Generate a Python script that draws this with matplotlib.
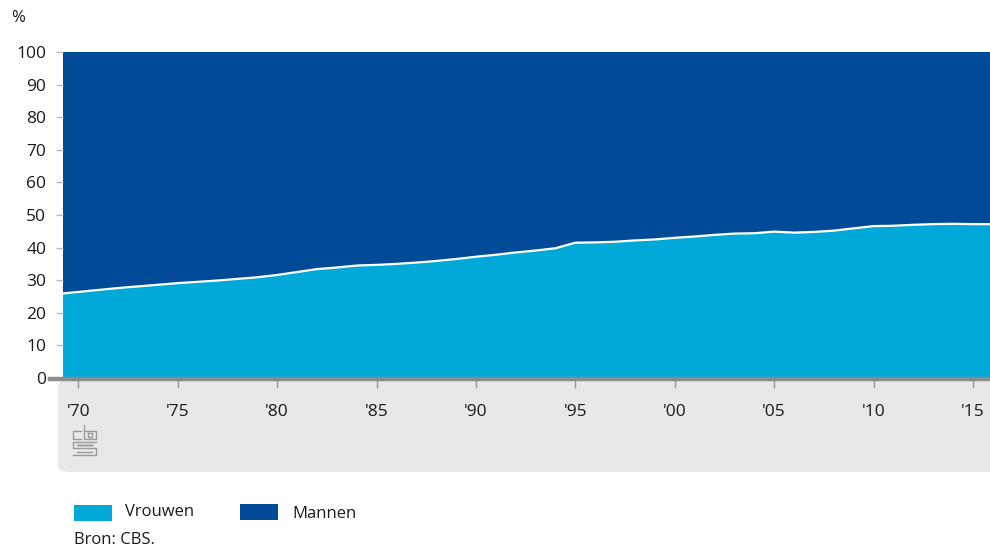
import matplotlib

matplotlib.use("Agg")
import matplotlib.pyplot as plt
from matplotlib.patches import FancyBboxPatch, Rectangle

plt.rcParams["font.family"] = ["Open Sans", "DejaVu Sans"]

years = list(range(1969, 2017))
vrouwen = [
    25.8, 26.4, 27.0, 27.6, 28.1, 28.6, 29.1, 29.5, 29.9, 30.4,
    30.9, 31.6, 32.5, 33.4, 33.9, 34.5, 34.7, 35.0, 35.4, 35.9,
    36.5, 37.2, 37.8, 38.5, 39.1, 39.8, 41.5, 41.6, 41.8, 42.2,
    42.5, 43.0, 43.4, 43.9, 44.3, 44.4, 44.9, 44.6, 44.8, 45.2,
    45.9, 46.6, 46.7, 47.0, 47.2, 47.3, 47.2, 47.2,
]
mannen = [100 - v for v in vrouwen]
tick_years = [1970, 1975, 1980, 1985, 1990, 1995, 2000, 2005, 2010, 2015]
tick_labels = ["'70", "'75", "'80", "'85", "'90", "'95", "'00", "'05", "'10", "'15"]
y_ticks = [0, 10, 20, 30, 40, 50, 60, 70, 80, 90, 100]

LIGHT = "#00a9d7"
DARK = "#004a98"
TEXT = "#1a1a1a"
GRID = "#999999"

W, H = 990, 548
fig = plt.figure(figsize=(W / 100, H / 100), dpi=100)

# grey band behind the x labels
band = FancyBboxPatch(
    (58 / W, (H - 472) / H), (W - 58 + 20) / W, (472 - 380) / H,
    boxstyle="round,pad=0,rounding_size=0.012",
    transform=fig.transFigure, facecolor="#e8e8e8", edgecolor="none", zorder=-5,
)
fig.patches.append(band)

ax = fig.add_axes([63 / W, (H - 378) / H, (W - 63) / W, (378 - 52) / H])
ax.patch.set_alpha(0)
ax.stackplot(years, vrouwen, mannen, colors=[LIGHT, DARK], linewidth=0)
ax.plot(years, vrouwen, color="white", linewidth=1.6)

ax.set_xlim(1969.23, 2015.86)
ax.set_ylim(0, 100)
for side in ["top", "right", "left", "bottom"]:
    ax.spines[side].set_visible(False)

ax.set_yticks(y_ticks)
ax.set_yticklabels([str(v) for v in y_ticks], fontsize=12.5, color=TEXT)
ax.tick_params(axis="y", length=5, width=1, color="#bbbbbb", pad=7)
ax.set_xticks(tick_years)
ax.set_xticklabels(tick_labels, fontsize=12.5, color=TEXT)
ax.tick_params(axis="x", length=7, width=1, color=GRID, pad=12, direction="out")

# thick baseline
fig.add_artist(plt.Line2D([50 / W, 1], [(H - 378.5) / H] * 2, color="#8c8c8c", linewidth=3.2))

fig.text(11 / W, 1 - 18 / H, "%", fontsize=12, color=TEXT, va="center")


def px_line(xs, ys):
    fig.add_artist(plt.Line2D([x / W for x in xs], [(H - y) / H for y in ys],
                              color="#9a9a9a", linewidth=1.0))


# cbs logo (simplified)
px_line([81, 73, 73, 81], [431, 431, 439, 439])
px_line([84, 84, 96, 96, 84], [425, 439, 439, 431, 431])
px_line([88, 92, 92, 88, 88], [433, 433, 437, 437, 433])
px_line([96, 73, 73, 96, 96, 73], [442, 442, 448, 448, 455, 455])
px_line([92, 77, 77, 92], [445, 445, 445, 445])
px_line([77, 92], [451.5, 451.5])

# legend
fig.patches.append(Rectangle((74 / W, (H - 521) / H), 38 / W, 16 / H,
                             transform=fig.transFigure, facecolor=LIGHT, edgecolor="none"))
fig.text(125 / W, 1 - 512 / H, "Vrouwen", fontsize=12, color=TEXT, va="center")
fig.patches.append(Rectangle((240 / W, (H - 520) / H), 38 / W, 16 / H,
                             transform=fig.transFigure, facecolor=DARK, edgecolor="none"))
fig.text(292 / W, 1 - 514 / H, "Mannen", fontsize=12, color=TEXT, va="center")
fig.text(74 / W, 1 - 540 / H, "Bron: CBS.", fontsize=12, color=TEXT, va="center")

fig.savefig("out.png", dpi=100)
plt.close(fig)
